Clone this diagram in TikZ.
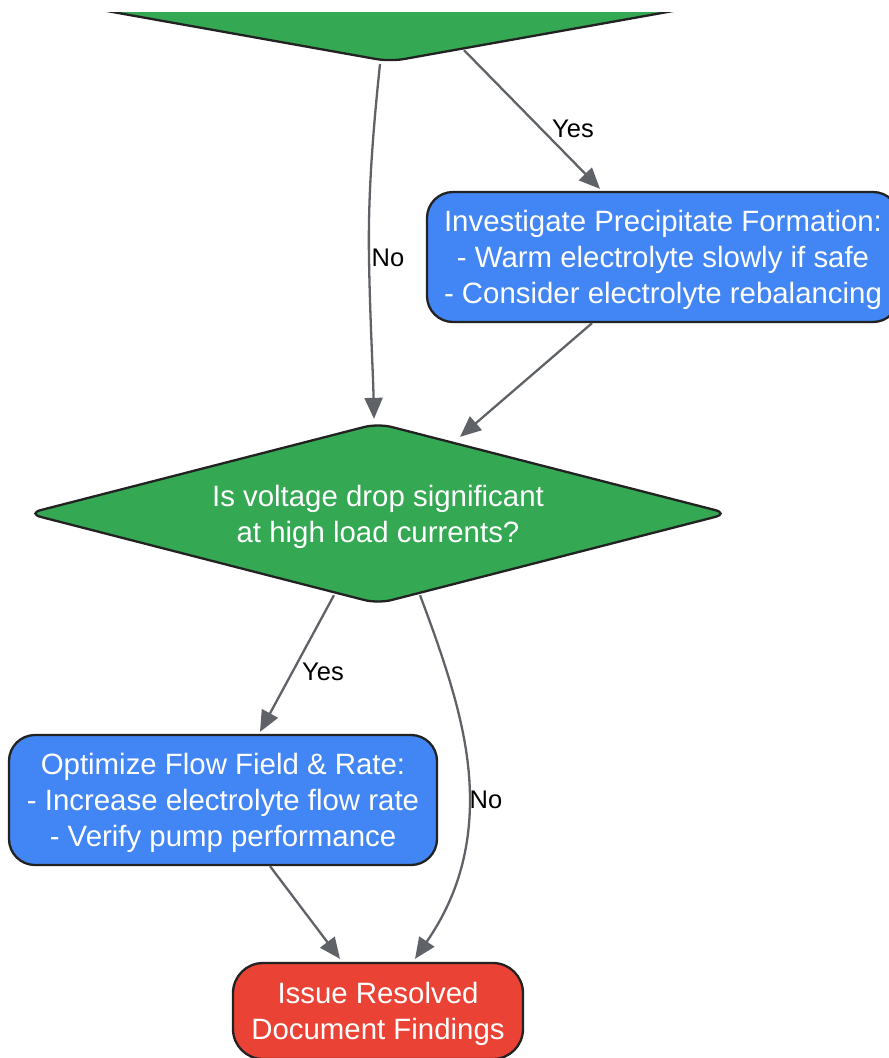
\documentclass[tikz,border=0pt]{standalone}
\usepackage{fontspec}
\setmainfont{Liberation Sans}
\usetikzlibrary{shapes.geometric,arrows.meta,calc}
\definecolor{ggreen}{HTML}{34A853}
\definecolor{gblue}{HTML}{4285F4}
\definecolor{gred}{HTML}{EA4335}
\definecolor{edgegray}{HTML}{5F6368}
\definecolor{bordercol}{HTML}{222222}
\begin{document}
\begin{tikzpicture}[x=1pt,y=-1pt,
  box/.style={draw=bordercol, line width=2.3pt, rounded corners=26pt, inner sep=0pt},
  dec/.style={diamond, draw=bordercol, line width=2.3pt, fill=ggreen, rounded corners=14pt,
    inner sep=0pt, aspect=3.9},
  txt/.style={text=white, align=center, font=\fontsize{29.4}{36}\selectfont, inner sep=0pt},
  conn/.style={draw=edgegray, line width=2.3pt, -{Triangle[length=21pt,width=18pt]}},
  lab/.style={font=\fontsize{25.5}{28}\selectfont, text=black, inner sep=0pt}]
\useasboundingbox (0,0) rectangle (889,1058);
\clip (0,12) rectangle (889,1058);
% shapes
\node[dec, minimum width=1340pt, minimum height=240pt] (d1) at (390,-58) {};
\node[box, fill=gblue, minimum width=472pt, minimum height=130pt] (b1) at (663,257) {};
\node[dec, minimum width=702pt, minimum height=181pt] (d2) at (378,513.5) {};
\node[box, fill=gblue, minimum width=428pt, minimum height=130pt] (b2) at (223,800) {};
\node[box, fill=gred, rounded corners=30pt, minimum width=290pt, minimum height=96pt] (r) at (378,1011) {};
% texts
\node[txt] (b1t) at ($(b1)+(0,3)$)
  {Investigate Precipitate Formation:\\- Warm electrolyte slowly if safe\\- Consider electrolyte rebalancing};
\node[txt] (d2t) at ($(d2)+(0,3.5)$)
  {Is voltage drop significant\\at high load currents?};
\node[txt] (b2t) at ($(b2)+(0,3)$)
  {Optimize Flow Field \& Rate:\\- Increase electrolyte flow rate\\- Verify pump performance};
\node[txt] (rt) at ($(r)+(0,3)$) {Issue Resolved\\Document Findings};
% labels
\node[lab] (l1) at (388,258) {No};
\node[lab] (l2) at (573,129) {Yes};
\node[lab] (l3) at (323,672) {Yes};
\node[lab] (l4) at (486,800) {No};
% connectors
\draw[conn] ($(d1.south)+(-10,1)$) .. controls (372,140) and (368,200) .. (369,258)
  .. controls (370,320) and (373,370) .. ($(d2.north)+(-4,-3)$);
\draw[conn] ($(d1.south)+(74,-13)$) -- ($(b1.north)+(-63,-2)$);
\draw[conn] ($(b1.south)+(-71,0)$) -- ($(d2.north)+(82,15)$);
\draw[conn] ($(d2.south)+(-44,-10)$) -- ($(b2.north)+(37,-2)$);
\draw[conn] ($(d2.south)+(42,-10)$) .. controls (452,680) and (470,740) .. (470,800)
  .. controls (470,870) and (445,915) .. ($(r.north)+(37,-3)$);
\draw[conn] ($(b2.south)+(47,0)$) -- ($(r.north)+(-38,-3)$);
\end{tikzpicture}
\end{document}
